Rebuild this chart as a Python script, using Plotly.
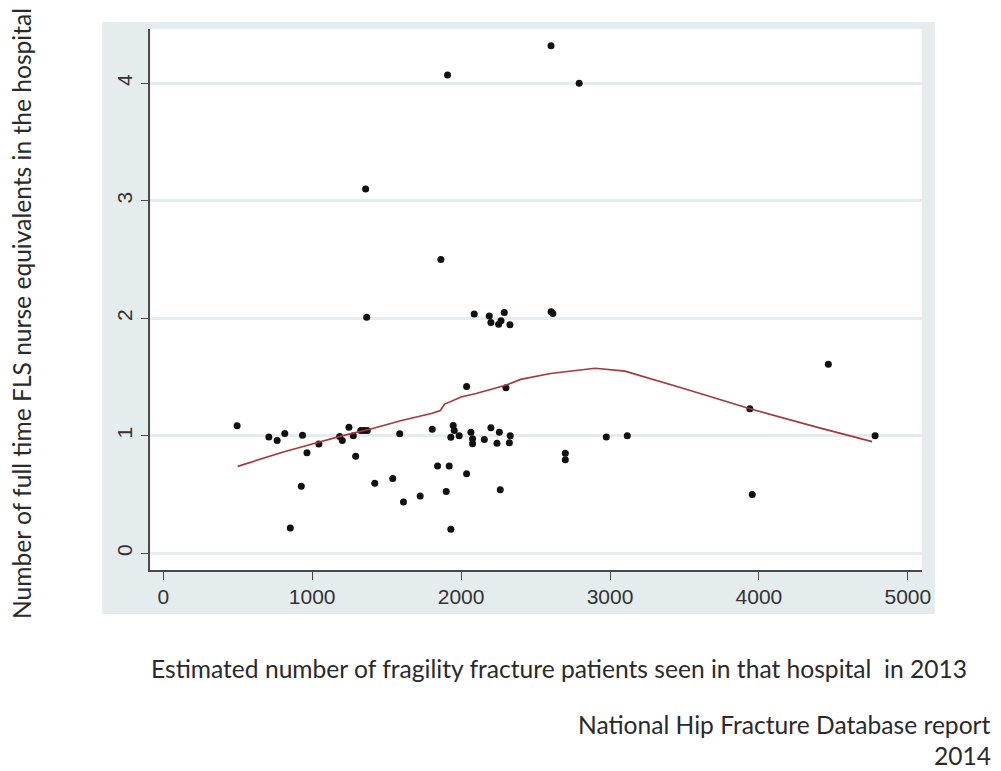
import plotly.graph_objects as go

# Scatter data: estimated fragility fracture patients vs FLS nurse FTEs
patients = [496, 709, 765, 816, 935, 965, 1045, 927, 853, 1184, 1202, 1247, 1276, 1292,
            1326, 1348, 1370, 1420, 1541, 1588, 1613, 1725, 1806, 1842, 1920, 2037,
            1900, 1931, 2263, 2700, 2700, 2088, 2189, 2200, 2252, 2290, 2268, 2328,
            2604, 2616, 2037, 2301, 1947, 1954, 1931, 1987, 2066, 2077, 2077, 2156,
            2200, 2257, 2241, 2330, 2324, 2975, 3116, 4466, 3939, 3955, 4780, 1909,
            1359, 1864, 1366, 2604, 2793]
nurses = [1.085, 0.99, 0.96, 1.02, 1.005, 0.855, 0.93, 0.57, 0.215, 0.994, 0.96, 1.073, 1.0, 0.827,
          1.045, 1.045, 1.045, 0.597, 0.637, 1.017, 0.436, 0.487, 1.056, 0.742, 0.742, 0.677,
          0.527, 0.204, 0.541, 0.852, 0.796, 2.036, 2.02, 1.965, 1.95, 2.05, 1.98, 1.945,
          2.056, 2.04, 1.42, 1.41, 1.087, 1.045, 0.988, 1.0, 1.03, 0.975, 0.932, 0.968,
          1.068, 1.03, 0.937, 1.0, 0.94, 0.99, 1.0, 1.61, 1.23, 0.50, 1.0, 4.07,
          3.1, 2.5, 2.01, 4.32, 4.0]

# Lowess smoother
lowess_x = [500, 800, 1000, 1200, 1400, 1600, 1800, 1860, 1890, 2000, 2100, 2300,
            2400, 2600, 2900, 3100, 3500, 3940, 4400, 4760]
lowess_y = [0.74, 0.86, 0.93, 1.0, 1.06, 1.13, 1.19, 1.215, 1.27, 1.33, 1.36, 1.43,
            1.48, 1.53, 1.575, 1.55, 1.40, 1.23, 1.07, 0.95]

x_ticks = [0, 1000, 2000, 3000, 4000, 5000]
y_ticks = [0, 1, 2, 3, 4]

x_title = "Estimated number of fragility fracture patients seen in that hospital  in 2013"
y_title = "Number of full time FLS nurse equivalents in the hospital"
source_line1 = "National Hip Fracture Database report"
source_line2 = "2014"

W, H = 1001, 771
W_EFF = 990  # effective rendered width used for horizontal placement
PANEL = "#e4ecee"
AXIS = "#4a4a4a"
TXT = "#2a2a2a"
TEXT_FONT = "Lato"
TEXT_SIZE = 24.6
TICK_FONT = dict(family="Liberation Sans, Arial", size=21, color="#333333")

fig = go.Figure()
fig.add_trace(go.Scatter(
    x=patients, y=nurses, mode="markers",
    marker=dict(size=7, color="#111111"),
    showlegend=False, hoverinfo="x+y"))
fig.add_trace(go.Scatter(
    x=lowess_x, y=lowess_y, mode="lines",
    line=dict(color="#a8373c", width=1.7),
    showlegend=False))

def px_x(p):
    return min(p / W_EFF, 1.0)

def px_y(p):
    return 1 - p / H

fig.update_layout(
    width=W, height=H,
    margin=dict(l=0, r=0, t=0, b=0),
    paper_bgcolor="white",
    plot_bgcolor="white",
    xaxis=dict(
        domain=[px_x(150), px_x(920)],
        range=[-87, 5094],
        tickvals=x_ticks,
        ticks="outside", ticklen=8, tickwidth=1.2, tickcolor=AXIS,
        ticklabelstandoff=-1,
        showline=True, linecolor=AXIS, linewidth=1.5,
        showgrid=False, zeroline=False,
        tickfont=TICK_FONT,
    ),
    yaxis=dict(
        domain=[px_y(570), px_y(29)],
        range=[-0.142, 4.462],
        tickvals=y_ticks,
        tickangle=-90,
        ticks="outside", ticklen=8, tickwidth=1.2, tickcolor=AXIS,
        ticklabelstandoff=0,
        showline=True, linecolor=AXIS, linewidth=1.5,
        showgrid=True, gridcolor=PANEL, gridwidth=3,
        zeroline=False,
        tickfont=TICK_FONT,
    ),
    shapes=[
        dict(type="rect", xref="paper", yref="paper", layer="below",
             x0=px_x(102), x1=px_x(933), y0=px_y(614), y1=px_y(22),
             fillcolor=PANEL, line=dict(width=0)),
        dict(type="rect", xref="x domain", yref="y domain", layer="below",
             x0=0, x1=1, y0=0, y1=1,
             fillcolor="white", line=dict(width=0)),
    ],
    annotations=[
        dict(text=x_title, xref="paper", yref="paper",
             x=px_x(150), y=px_y(668), xanchor="left", yanchor="middle",
             showarrow=False, borderpad=0,
             font=dict(family=TEXT_FONT, size=TEXT_SIZE, color=TXT)),
        dict(text=y_title, xref="paper", yref="paper", textangle=-90,
             x=px_x(21), y=px_y(314), xanchor="center", yanchor="middle",
             showarrow=False, borderpad=0,
             font=dict(family=TEXT_FONT, size=TEXT_SIZE, color=TXT)),
        dict(text=source_line1, xref="paper", yref="paper",
             x=px_x(997), y=px_y(724), xanchor="right", yanchor="middle",
             showarrow=False, borderpad=0,
             font=dict(family=TEXT_FONT, size=TEXT_SIZE, color=TXT)),
        dict(text=source_line2, xref="paper", yref="paper",
             x=px_x(997), y=px_y(755), xanchor="right", yanchor="middle",
             showarrow=False, borderpad=0,
             font=dict(family=TEXT_FONT, size=TEXT_SIZE, color=TXT)),
    ],
)

fig.write_html(
    "out.html",
    config={"displayModeBar": False},
    post_script="document.body.style.margin='0';document.body.style.overflow='hidden';",
)
